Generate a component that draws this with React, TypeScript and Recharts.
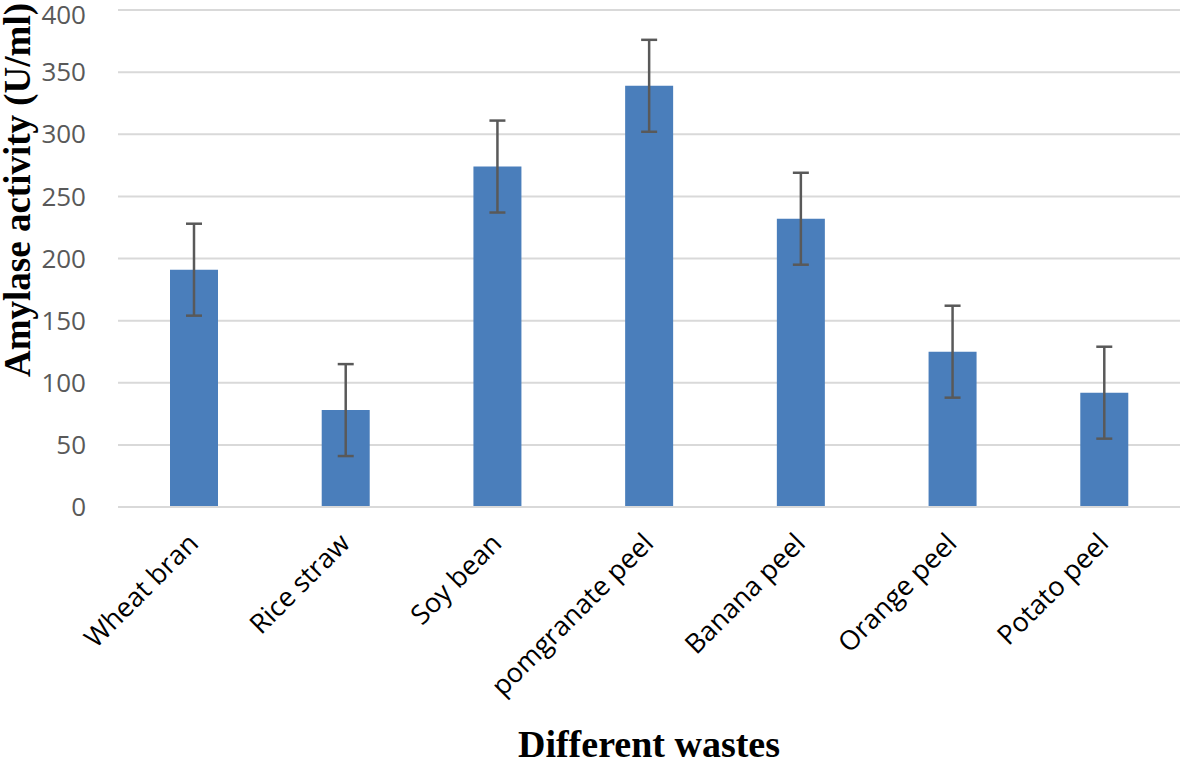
import { BarChart, Bar, ErrorBar, XAxis, YAxis, CartesianGrid, Label } from 'recharts'

const wastes = ['Wheat bran', 'Rice straw', 'Soy bean', 'pomgranate peel', 'Banana peel', 'Orange peel', 'Potato peel']
const activity = [191, 78, 274, 339, 232, 125, 92]
const errors = [37, 37, 37, 37, 37, 37, 37]
const yTicks = [0, 50, 100, 150, 200, 250, 300, 350, 400]

const data = wastes.map((name, i) => ({ name, activity: activity[i], err: errors[i] }))

const tickFont = '"Open Sans", "DejaVu Sans", sans-serif'
const titleFont = '"Liberation Serif", "DejaVu Serif", serif'

// rotated category labels, like the spreadsheet export
function WasteTick({ x, y, payload }: any) {
  return (
    <g transform={`translate(${x + 6},${y + 30})`}>
      <text transform="rotate(-45)" textAnchor="end" fill="#000" fontSize={27} fontFamily={tickFont}>
        {payload.value}
      </text>
    </g>
  )
}

function YTitle() {
  return (
    <text
      transform="translate(30,190) rotate(-90)"
      textAnchor="middle"
      fontSize={37}
      fontWeight="bold"
      fontFamily={titleFont}
      fill="#000"
    >
      Amylase activity (U/ml)
    </text>
  )
}

function XTitle() {
  return (
    <text
      x={649}
      y={757}
      textAnchor="middle"
      fontSize={38}
      fontWeight="bold"
      fontFamily={titleFont}
      fill="#000"
    >
      Different wastes
    </text>
  )
}

export default function App() {
  return (
    <div style={{ position: 'absolute', left: 0, top: 0, background: '#fff' }}>
      <BarChart width={1181} height={763} data={data} margin={{ top: 10, right: 1, left: 0, bottom: 0 }} barSize={48}>
        <CartesianGrid vertical={false} stroke="#d9d9d9" strokeWidth={2} />
        <XAxis
          dataKey="name"
          height={256}
          interval={0}
          tick={<WasteTick />}
          tickLine={false}
          axisLine={{ stroke: '#d9d9d9', strokeWidth: 2 }}
        >
          <Label content={<XTitle />} />
        </XAxis>
        <YAxis
          width={118}
          domain={[0, 400]}
          ticks={yTicks}
          tickLine={false}
          axisLine={false}
          tickMargin={26}
          tick={{ fill: '#595959', fontSize: 26, fontFamily: tickFont }}
        >
          <Label content={<YTitle />} />
        </YAxis>
        <Bar dataKey="activity" fill="#4a7ebb" isAnimationActive={false}>
          <ErrorBar dataKey="err" width={8} stroke="#595959" strokeWidth={2.5} direction="y" />
        </Bar>
      </BarChart>
    </div>
  )
}
